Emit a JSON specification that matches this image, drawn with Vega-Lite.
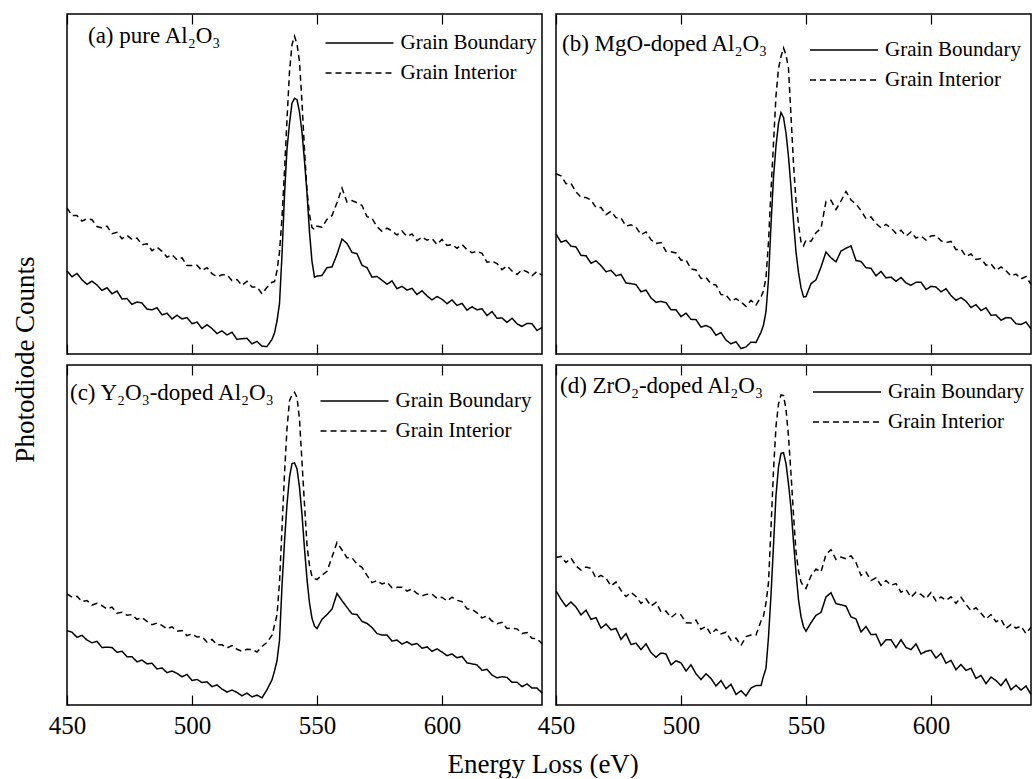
{
"$schema": "https://vega.github.io/schema/vega-lite/v6.json",
"padding": {"left": 11, "top": 13, "right": 0, "bottom": 0},
"background": "white",
"title": {"text": "Photodiode Counts", "orient": "left", "anchor": "middle", "fontSize": 27, "offset": -19.5, "dx": 36, "baseline": "bottom", "font": "Liberation Serif", "fontWeight": "normal", "color": "black"},
"vconcat": [{
  "title": {"text": "Energy Loss (eV)", "orient": "bottom", "anchor": "middle", "fontSize": 27, "offset": 13, "dx": 2, "baseline": "top", "font": "Liberation Serif", "fontWeight": "normal", "color": "black"},
  "columns": 2,
  "spacing": {"row": 9, "column": -10},
  "resolve": {"scale": {"strokeDash": "independent"}, "legend": {"strokeDash": "independent"}},
  "concat": [
    {
      "width": 475, "height": 340,
      "data": {"name": "a"},
      "title": {"text": "(a) pure Al₂O₃", "dx": 21, "offset": -34, "frame": "group"},
      "transform": [{"fold": ["Grain Boundary", "Grain Interior"], "as": ["series", "counts"]}],
      "mark": {"type": "line", "color": "black", "strokeWidth": 1.5},
      "encoding": {
        "x": {"field": "e", "type": "quantitative", "scale": {"domain": [450, 640], "nice": false, "zero": false},
              "axis": {"values": [450, 500, 550, 600], "labels": false, "ticks": false, "domain": false, "grid": true, "gridDash": [10, 320], "gridColor": "black", "gridOpacity": 1, "gridWidth": 1.2, "title": null}},
        "y": {"field": "counts", "type": "quantitative", "scale": {"domain": [0, 1000], "nice": false}, "axis": null},
        "strokeDash": {"field": "series", "type": "nominal", "scale": {"domain": ["Grain Boundary", "Grain Interior"], "range": [[1, 0], [6, 4]]},
              "legend": {"title": null, "orient": "none", "legendX": 281.5, "legendY": 18}}
      }
    },
    {
      "width": 475, "height": 340,
      "data": {"name": "b"},
      "title": {"text": "(b) MgO-doped Al₂O₃", "dx": 6, "offset": -42, "frame": "group"},
      "transform": [{"fold": ["Grain Boundary", "Grain Interior"], "as": ["series", "counts"]}],
      "mark": {"type": "line", "color": "black", "strokeWidth": 1.5},
      "encoding": {
        "x": {"field": "e", "type": "quantitative", "scale": {"domain": [450, 640], "nice": false, "zero": false},
              "axis": {"values": [450, 500, 550, 600], "labels": false, "ticks": false, "domain": false, "grid": true, "gridDash": [10, 320], "gridColor": "black", "gridOpacity": 1, "gridWidth": 1.2, "title": null}},
        "y": {"field": "counts", "type": "quantitative", "scale": {"domain": [0, 1000], "nice": false}, "axis": null},
        "strokeDash": {"field": "series", "type": "nominal", "scale": {"domain": ["Grain Boundary", "Grain Interior"], "range": [[1, 0], [6, 4]]},
              "legend": {"title": null, "orient": "none", "legendX": 277, "legendY": 25}}
      }
    },
    {
      "width": 475, "height": 340,
      "data": {"name": "c"},
      "title": {"text": "(c) Y₂O₃-doped Al₂O₃", "dx": 3, "offset": -40, "frame": "group"},
      "transform": [{"fold": ["Grain Boundary", "Grain Interior"], "as": ["series", "counts"]}],
      "mark": {"type": "line", "color": "black", "strokeWidth": 1.5},
      "encoding": {
        "x": {"field": "e", "type": "quantitative", "scale": {"domain": [450, 640], "nice": false, "zero": false},
              "axis": {"values": [450, 500, 550, 600], "labels": true, "labelFlush": false, "labelOverlap": false, "labelFontSize": 25, "labelFont": "Liberation Serif", "labelColor": "black", "labelPadding": 8, "ticks": false, "domain": false, "grid": true, "gridDash": [10, 320], "gridColor": "black", "gridOpacity": 1, "gridWidth": 1.2, "title": null}},
        "y": {"field": "counts", "type": "quantitative", "scale": {"domain": [0, 1000], "nice": false}, "axis": null},
        "strokeDash": {"field": "series", "type": "nominal", "scale": {"domain": ["Grain Boundary", "Grain Interior"], "range": [[1, 0], [6, 4]]},
              "legend": {"title": null, "orient": "none", "legendX": 276.5, "legendY": 25}}
      }
    },
    {
      "width": 475, "height": 340,
      "data": {"name": "d"},
      "title": {"text": "(d) ZrO₂-doped Al₂O₃", "dx": 4, "offset": -33, "frame": "group"},
      "transform": [{"fold": ["Grain Boundary", "Grain Interior"], "as": ["series", "counts"]}],
      "mark": {"type": "line", "color": "black", "strokeWidth": 1.5},
      "encoding": {
        "x": {"field": "e", "type": "quantitative", "scale": {"domain": [450, 640], "nice": false, "zero": false},
              "axis": {"values": [450, 500, 550, 600], "labels": true, "labelFlush": false, "labelOverlap": false, "labelFontSize": 25, "labelFont": "Liberation Serif", "labelColor": "black", "labelPadding": 8, "ticks": false, "domain": false, "grid": true, "gridDash": [10, 320], "gridColor": "black", "gridOpacity": 1, "gridWidth": 1.2, "title": null}},
        "y": {"field": "counts", "type": "quantitative", "scale": {"domain": [0, 1000], "nice": false}, "axis": null},
        "strokeDash": {"field": "series", "type": "nominal", "scale": {"domain": ["Grain Boundary", "Grain Interior"], "range": [[1, 0], [6, 4]]},
              "legend": {"title": null, "orient": "none", "legendX": 280, "legendY": 16}}
      }
    }
  ]
}],
"config": {
  "view": {"stroke": "black", "strokeWidth": 1.5},
  "font": "Liberation Serif",
  "title": {"font": "Liberation Serif", "fontSize": 23, "fontWeight": "normal", "anchor": "start", "color": "black", "baseline": "alphabetic"},
  "legend": {"symbolType": "M-3.4,0H3.4", "symbolSize": 400, "symbolStrokeColor": "black", "symbolStrokeWidth": 1.5, "labelFont": "Liberation Serif", "labelFontSize": 21, "labelColor": "black", "labelOffset": 30, "rowPadding": 9, "padding": 0, "labelLimit": 300}
},
"datasets": {
"a": [
{"e":450,"Grain Boundary":244,"Grain Interior":430},{"e":452,"Grain Boundary":227,"Grain Interior":407},{"e":454,"Grain Boundary":237,"Grain Interior":407},{"e":456,"Grain Boundary":218,"Grain Interior":391},{"e":458,"Grain Boundary":205,"Grain Interior":398},{"e":460,"Grain Boundary":214,"Grain Interior":395},{"e":462,"Grain Boundary":203,"Grain Interior":375},{"e":464,"Grain Boundary":187,"Grain Interior":371},{"e":466,"Grain Boundary":195,"Grain Interior":376},{"e":468,"Grain Boundary":177,"Grain Interior":354},{"e":470,"Grain Boundary":185,"Grain Interior":358},{"e":472,"Grain Boundary":162,"Grain Interior":339},{"e":474,"Grain Boundary":163,"Grain Interior":349},{"e":476,"Grain Boundary":146,"Grain Interior":337},{"e":478,"Grain Boundary":153,"Grain Interior":341},{"e":480,"Grain Boundary":150,"Grain Interior":321},{"e":482,"Grain Boundary":132,"Grain Interior":324},{"e":484,"Grain Boundary":130,"Grain Interior":304},{"e":486,"Grain Boundary":136,"Grain Interior":314},{"e":488,"Grain Boundary":115,"Grain Interior":302},{"e":490,"Grain Boundary":120,"Grain Interior":285},{"e":492,"Grain Boundary":103,"Grain Interior":292},{"e":494,"Grain Boundary":114,"Grain Interior":277},{"e":496,"Grain Boundary":103,"Grain Interior":283},{"e":498,"Grain Boundary":107,"Grain Interior":260},{"e":500,"Grain Boundary":89,"Grain Interior":260},{"e":502,"Grain Boundary":94,"Grain Interior":261},{"e":504,"Grain Boundary":75,"Grain Interior":245},{"e":506,"Grain Boundary":86,"Grain Interior":254},{"e":508,"Grain Boundary":75,"Grain Interior":236},{"e":510,"Grain Boundary":60,"Grain Interior":227},{"e":512,"Grain Boundary":68,"Grain Interior":233},{"e":514,"Grain Boundary":56,"Grain Interior":233},{"e":516,"Grain Boundary":64,"Grain Interior":216},{"e":518,"Grain Boundary":43,"Grain Interior":219},{"e":520,"Grain Boundary":45,"Grain Interior":202},{"e":522,"Grain Boundary":46,"Grain Interior":214},{"e":524,"Grain Boundary":30,"Grain Interior":197},{"e":526,"Grain Boundary":37,"Grain Interior":197},{"e":528,"Grain Boundary":23,"Grain Interior":177},{"e":530,"Grain Boundary":22,"Grain Interior":196},{"e":532,"Grain Boundary":43,"Grain Interior":211},{"e":533,"Grain Boundary":62,"Grain Interior":213},{"e":534,"Grain Boundary":97,"Grain Interior":245},{"e":535,"Grain Boundary":148,"Grain Interior":300},{"e":536,"Grain Boundary":292,"Grain Interior":400},{"e":537,"Grain Boundary":468,"Grain Interior":540},{"e":538,"Grain Boundary":603,"Grain Interior":690},{"e":539,"Grain Boundary":678,"Grain Interior":830},{"e":540,"Grain Boundary":738,"Grain Interior":910},{"e":541,"Grain Boundary":752,"Grain Interior":935},{"e":542,"Grain Boundary":748,"Grain Interior":912},{"e":543,"Grain Boundary":712,"Grain Interior":860},{"e":544,"Grain Boundary":652,"Grain Interior":740},{"e":545,"Grain Boundary":568,"Grain Interior":600},{"e":546,"Grain Boundary":473,"Grain Interior":480},{"e":547,"Grain Boundary":358,"Grain Interior":410},{"e":548,"Grain Boundary":272,"Grain Interior":372},{"e":549,"Grain Boundary":226,"Grain Interior":366},{"e":550,"Grain Boundary":229,"Grain Interior":376},{"e":552,"Grain Boundary":231,"Grain Interior":373},{"e":554,"Grain Boundary":254,"Grain Interior":396},{"e":556,"Grain Boundary":256,"Grain Interior":407},{"e":558,"Grain Boundary":293,"Grain Interior":445},{"e":560,"Grain Boundary":338,"Grain Interior":488},{"e":562,"Grain Boundary":325,"Grain Interior":447},{"e":564,"Grain Boundary":299,"Grain Interior":451},{"e":566,"Grain Boundary":295,"Grain Interior":445},{"e":568,"Grain Boundary":261,"Grain Interior":437},{"e":570,"Grain Boundary":254,"Grain Interior":404},{"e":572,"Grain Boundary":226,"Grain Interior":399},{"e":574,"Grain Boundary":228,"Grain Interior":374},{"e":576,"Grain Boundary":217,"Grain Interior":361},{"e":578,"Grain Boundary":205,"Grain Interior":370},{"e":580,"Grain Boundary":215,"Grain Interior":362},{"e":582,"Grain Boundary":192,"Grain Interior":350},{"e":584,"Grain Boundary":199,"Grain Interior":362},{"e":586,"Grain Boundary":188,"Grain Interior":346},{"e":588,"Grain Boundary":193,"Grain Interior":353},{"e":590,"Grain Boundary":175,"Grain Interior":333},{"e":592,"Grain Boundary":186,"Grain Interior":344},{"e":594,"Grain Boundary":171,"Grain Interior":335},{"e":596,"Grain Boundary":159,"Grain Interior":340},{"e":598,"Grain Boundary":169,"Grain Interior":322},{"e":600,"Grain Boundary":161,"Grain Interior":337},{"e":602,"Grain Boundary":148,"Grain Interior":319},{"e":604,"Grain Boundary":159,"Grain Interior":322},{"e":606,"Grain Boundary":143,"Grain Interior":311},{"e":608,"Grain Boundary":149,"Grain Interior":322},{"e":610,"Grain Boundary":129,"Grain Interior":307},{"e":612,"Grain Boundary":139,"Grain Interior":298},{"e":614,"Grain Boundary":130,"Grain Interior":302},{"e":616,"Grain Boundary":133,"Grain Interior":296},{"e":618,"Grain Boundary":113,"Grain Interior":270},{"e":620,"Grain Boundary":125,"Grain Interior":273},{"e":622,"Grain Boundary":105,"Grain Interior":266},{"e":624,"Grain Boundary":106,"Grain Interior":248},{"e":626,"Grain Boundary":93,"Grain Interior":259},{"e":628,"Grain Boundary":105,"Grain Interior":244},{"e":630,"Grain Boundary":89,"Grain Interior":234},{"e":632,"Grain Boundary":81,"Grain Interior":248},{"e":634,"Grain Boundary":90,"Grain Interior":242},{"e":636,"Grain Boundary":89,"Grain Interior":230},{"e":638,"Grain Boundary":69,"Grain Interior":243},{"e":640,"Grain Boundary":78,"Grain Interior":231}
],
"b": [
{"e":450,"Grain Boundary":353,"Grain Interior":530},{"e":452,"Grain Boundary":329,"Grain Interior":524},{"e":454,"Grain Boundary":334,"Grain Interior":501},{"e":456,"Grain Boundary":317,"Grain Interior":502},{"e":458,"Grain Boundary":315,"Grain Interior":477},{"e":460,"Grain Boundary":290,"Grain Interior":461},{"e":462,"Grain Boundary":289,"Grain Interior":460},{"e":464,"Grain Boundary":267,"Grain Interior":453},{"e":466,"Grain Boundary":274,"Grain Interior":431},{"e":468,"Grain Boundary":260,"Grain Interior":431},{"e":470,"Grain Boundary":242,"Grain Interior":410},{"e":472,"Grain Boundary":246,"Grain Interior":420},{"e":474,"Grain Boundary":230,"Grain Interior":401},{"e":476,"Grain Boundary":234,"Grain Interior":400},{"e":478,"Grain Boundary":209,"Grain Interior":376},{"e":480,"Grain Boundary":207,"Grain Interior":380},{"e":482,"Grain Boundary":204,"Grain Interior":373},{"e":484,"Grain Boundary":183,"Grain Interior":351},{"e":486,"Grain Boundary":188,"Grain Interior":359},{"e":488,"Grain Boundary":165,"Grain Interior":336},{"e":490,"Grain Boundary":152,"Grain Interior":325},{"e":492,"Grain Boundary":155,"Grain Interior":328},{"e":494,"Grain Boundary":151,"Grain Interior":302},{"e":496,"Grain Boundary":130,"Grain Interior":301},{"e":498,"Grain Boundary":130,"Grain Interior":297},{"e":500,"Grain Boundary":110,"Grain Interior":276},{"e":502,"Grain Boundary":120,"Grain Interior":277},{"e":504,"Grain Boundary":102,"Grain Interior":250},{"e":506,"Grain Boundary":101,"Grain Interior":247},{"e":508,"Grain Boundary":79,"Grain Interior":222},{"e":510,"Grain Boundary":84,"Grain Interior":225},{"e":512,"Grain Boundary":77,"Grain Interior":206},{"e":514,"Grain Boundary":55,"Grain Interior":203},{"e":516,"Grain Boundary":63,"Grain Interior":175},{"e":518,"Grain Boundary":41,"Grain Interior":174},{"e":520,"Grain Boundary":30,"Grain Interior":155},{"e":522,"Grain Boundary":36,"Grain Interior":163},{"e":524,"Grain Boundary":16,"Grain Interior":153},{"e":526,"Grain Boundary":21,"Grain Interior":140},{"e":528,"Grain Boundary":35,"Grain Interior":158},{"e":530,"Grain Boundary":34,"Grain Interior":144},{"e":532,"Grain Boundary":64,"Grain Interior":168},{"e":533,"Grain Boundary":85,"Grain Interior":185},{"e":534,"Grain Boundary":125,"Grain Interior":225},{"e":535,"Grain Boundary":220,"Grain Interior":330},{"e":536,"Grain Boundary":380,"Grain Interior":480},{"e":537,"Grain Boundary":520,"Grain Interior":620},{"e":538,"Grain Boundary":612,"Grain Interior":760},{"e":539,"Grain Boundary":678,"Grain Interior":840},{"e":540,"Grain Boundary":710,"Grain Interior":875},{"e":541,"Grain Boundary":696,"Grain Interior":900},{"e":542,"Grain Boundary":650,"Grain Interior":880},{"e":543,"Grain Boundary":580,"Grain Interior":840},{"e":544,"Grain Boundary":490,"Grain Interior":700},{"e":545,"Grain Boundary":390,"Grain Interior":560},{"e":546,"Grain Boundary":300,"Grain Interior":450},{"e":547,"Grain Boundary":240,"Grain Interior":380},{"e":548,"Grain Boundary":195,"Grain Interior":330},{"e":549,"Grain Boundary":168,"Grain Interior":318},{"e":550,"Grain Boundary":169,"Grain Interior":335},{"e":552,"Grain Boundary":207,"Grain Interior":331},{"e":554,"Grain Boundary":218,"Grain Interior":357},{"e":556,"Grain Boundary":256,"Grain Interior":369},{"e":558,"Grain Boundary":300,"Grain Interior":449},{"e":560,"Grain Boundary":283,"Grain Interior":452},{"e":562,"Grain Boundary":271,"Grain Interior":425},{"e":564,"Grain Boundary":303,"Grain Interior":450},{"e":566,"Grain Boundary":311,"Grain Interior":478},{"e":568,"Grain Boundary":318,"Grain Interior":453},{"e":570,"Grain Boundary":275,"Grain Interior":441},{"e":572,"Grain Boundary":272,"Grain Interior":422},{"e":574,"Grain Boundary":254,"Grain Interior":398},{"e":576,"Grain Boundary":252,"Grain Interior":403},{"e":578,"Grain Boundary":230,"Grain Interior":384},{"e":580,"Grain Boundary":243,"Grain Interior":371},{"e":582,"Grain Boundary":224,"Grain Interior":381},{"e":584,"Grain Boundary":226,"Grain Interior":371},{"e":586,"Grain Boundary":214,"Grain Interior":355},{"e":588,"Grain Boundary":225,"Grain Interior":364},{"e":590,"Grain Boundary":209,"Grain Interior":347},{"e":592,"Grain Boundary":202,"Grain Interior":359},{"e":594,"Grain Boundary":211,"Grain Interior":341},{"e":596,"Grain Boundary":211,"Grain Interior":347},{"e":598,"Grain Boundary":190,"Grain Interior":335},{"e":600,"Grain Boundary":199,"Grain Interior":347},{"e":602,"Grain Boundary":197,"Grain Interior":349},{"e":604,"Grain Boundary":183,"Grain Interior":333},{"e":606,"Grain Boundary":192,"Grain Interior":328},{"e":608,"Grain Boundary":172,"Grain Interior":331},{"e":610,"Grain Boundary":158,"Grain Interior":307},{"e":612,"Grain Boundary":166,"Grain Interior":308},{"e":614,"Grain Boundary":155,"Grain Interior":287},{"e":616,"Grain Boundary":137,"Grain Interior":294},{"e":618,"Grain Boundary":145,"Grain Interior":278},{"e":620,"Grain Boundary":128,"Grain Interior":281},{"e":622,"Grain Boundary":136,"Grain Interior":261},{"e":624,"Grain Boundary":114,"Grain Interior":265},{"e":626,"Grain Boundary":115,"Grain Interior":246},{"e":628,"Grain Boundary":99,"Grain Interior":256},{"e":630,"Grain Boundary":107,"Grain Interior":245},{"e":632,"Grain Boundary":106,"Grain Interior":229},{"e":634,"Grain Boundary":89,"Grain Interior":235},{"e":636,"Grain Boundary":87,"Grain Interior":221},{"e":638,"Grain Boundary":94,"Grain Interior":228},{"e":640,"Grain Boundary":74,"Grain Interior":205}
],
"c": [
{"e":450,"Grain Boundary":219,"Grain Interior":327},{"e":452,"Grain Boundary":214,"Grain Interior":317},{"e":454,"Grain Boundary":199,"Grain Interior":320},{"e":456,"Grain Boundary":205,"Grain Interior":304},{"e":458,"Grain Boundary":191,"Grain Interior":307},{"e":460,"Grain Boundary":183,"Grain Interior":294},{"e":462,"Grain Boundary":187,"Grain Interior":299},{"e":464,"Grain Boundary":169,"Grain Interior":292},{"e":466,"Grain Boundary":170,"Grain Interior":282},{"e":468,"Grain Boundary":169,"Grain Interior":288},{"e":470,"Grain Boundary":155,"Grain Interior":270},{"e":472,"Grain Boundary":158,"Grain Interior":273},{"e":474,"Grain Boundary":142,"Grain Interior":264},{"e":476,"Grain Boundary":142,"Grain Interior":266},{"e":478,"Grain Boundary":127,"Grain Interior":252},{"e":480,"Grain Boundary":132,"Grain Interior":257},{"e":482,"Grain Boundary":121,"Grain Interior":246},{"e":484,"Grain Boundary":123,"Grain Interior":236},{"e":486,"Grain Boundary":106,"Grain Interior":241},{"e":488,"Grain Boundary":109,"Grain Interior":234},{"e":490,"Grain Boundary":95,"Grain Interior":224},{"e":492,"Grain Boundary":100,"Grain Interior":230},{"e":494,"Grain Boundary":93,"Grain Interior":217},{"e":496,"Grain Boundary":83,"Grain Interior":219},{"e":498,"Grain Boundary":90,"Grain Interior":204},{"e":500,"Grain Boundary":72,"Grain Interior":209},{"e":502,"Grain Boundary":75,"Grain Interior":200},{"e":504,"Grain Boundary":66,"Grain Interior":201},{"e":506,"Grain Boundary":68,"Grain Interior":185},{"e":508,"Grain Boundary":54,"Grain Interior":193},{"e":510,"Grain Boundary":59,"Grain Interior":177},{"e":512,"Grain Boundary":47,"Grain Interior":177},{"e":514,"Grain Boundary":38,"Grain Interior":168},{"e":516,"Grain Boundary":44,"Grain Interior":175},{"e":518,"Grain Boundary":37,"Grain Interior":164},{"e":520,"Grain Boundary":27,"Grain Interior":158},{"e":522,"Grain Boundary":35,"Grain Interior":164},{"e":524,"Grain Boundary":24,"Grain Interior":163},{"e":526,"Grain Boundary":29,"Grain Interior":156},{"e":528,"Grain Boundary":21,"Grain Interior":172},{"e":530,"Grain Boundary":45,"Grain Interior":184},{"e":532,"Grain Boundary":74,"Grain Interior":205},{"e":533,"Grain Boundary":100,"Grain Interior":235},{"e":534,"Grain Boundary":130,"Grain Interior":265},{"e":535,"Grain Boundary":190,"Grain Interior":360},{"e":536,"Grain Boundary":350,"Grain Interior":519},{"e":537,"Grain Boundary":480,"Grain Interior":680},{"e":538,"Grain Boundary":590,"Grain Interior":813},{"e":539,"Grain Boundary":670,"Grain Interior":895},{"e":540,"Grain Boundary":710,"Grain Interior":912},{"e":541,"Grain Boundary":712,"Grain Interior":920},{"e":542,"Grain Boundary":695,"Grain Interior":905},{"e":543,"Grain Boundary":640,"Grain Interior":840},{"e":544,"Grain Boundary":560,"Grain Interior":715},{"e":545,"Grain Boundary":460,"Grain Interior":590},{"e":546,"Grain Boundary":370,"Grain Interior":470},{"e":547,"Grain Boundary":300,"Grain Interior":410},{"e":548,"Grain Boundary":255,"Grain Interior":378},{"e":549,"Grain Boundary":232,"Grain Interior":372},{"e":550,"Grain Boundary":225,"Grain Interior":369},{"e":552,"Grain Boundary":252,"Grain Interior":382},{"e":554,"Grain Boundary":266,"Grain Interior":393},{"e":556,"Grain Boundary":282,"Grain Interior":435},{"e":558,"Grain Boundary":328,"Grain Interior":478},{"e":560,"Grain Boundary":307,"Grain Interior":456},{"e":562,"Grain Boundary":287,"Grain Interior":433},{"e":564,"Grain Boundary":268,"Grain Interior":433},{"e":566,"Grain Boundary":266,"Grain Interior":414},{"e":568,"Grain Boundary":246,"Grain Interior":405},{"e":570,"Grain Boundary":240,"Grain Interior":381},{"e":572,"Grain Boundary":228,"Grain Interior":360},{"e":574,"Grain Boundary":210,"Grain Interior":366},{"e":576,"Grain Boundary":206,"Grain Interior":356},{"e":578,"Grain Boundary":206,"Grain Interior":361},{"e":580,"Grain Boundary":188,"Grain Interior":345},{"e":582,"Grain Boundary":191,"Grain Interior":346},{"e":584,"Grain Boundary":179,"Grain Interior":346},{"e":586,"Grain Boundary":186,"Grain Interior":335},{"e":588,"Grain Boundary":177,"Grain Interior":341},{"e":590,"Grain Boundary":181,"Grain Interior":328},{"e":592,"Grain Boundary":167,"Grain Interior":321},{"e":594,"Grain Boundary":171,"Grain Interior":326},{"e":596,"Grain Boundary":158,"Grain Interior":326},{"e":598,"Grain Boundary":165,"Grain Interior":314},{"e":600,"Grain Boundary":156,"Grain Interior":317},{"e":602,"Grain Boundary":145,"Grain Interior":306},{"e":604,"Grain Boundary":150,"Grain Interior":317},{"e":606,"Grain Boundary":139,"Grain Interior":308},{"e":608,"Grain Boundary":143,"Grain Interior":304},{"e":610,"Grain Boundary":124,"Grain Interior":283},{"e":612,"Grain Boundary":121,"Grain Interior":281},{"e":614,"Grain Boundary":118,"Grain Interior":271},{"e":616,"Grain Boundary":102,"Grain Interior":256},{"e":618,"Grain Boundary":105,"Grain Interior":262},{"e":620,"Grain Boundary":88,"Grain Interior":247},{"e":622,"Grain Boundary":80,"Grain Interior":239},{"e":624,"Grain Boundary":83,"Grain Interior":243},{"e":626,"Grain Boundary":81,"Grain Interior":225},{"e":628,"Grain Boundary":67,"Grain Interior":226},{"e":630,"Grain Boundary":67,"Grain Interior":224},{"e":632,"Grain Boundary":54,"Grain Interior":210},{"e":634,"Grain Boundary":62,"Grain Interior":213},{"e":636,"Grain Boundary":50,"Grain Interior":196},{"e":638,"Grain Boundary":50,"Grain Interior":195},{"e":640,"Grain Boundary":35,"Grain Interior":180}
],
"d": [
{"e":450,"Grain Boundary":336,"Grain Interior":434},{"e":452,"Grain Boundary":311,"Grain Interior":437},{"e":454,"Grain Boundary":290,"Grain Interior":419},{"e":456,"Grain Boundary":303,"Grain Interior":432},{"e":458,"Grain Boundary":288,"Grain Interior":409},{"e":460,"Grain Boundary":265,"Grain Interior":397},{"e":462,"Grain Boundary":279,"Grain Interior":406},{"e":464,"Grain Boundary":252,"Grain Interior":402},{"e":466,"Grain Boundary":257,"Grain Interior":373},{"e":468,"Grain Boundary":226,"Grain Interior":381},{"e":470,"Grain Boundary":238,"Grain Interior":373},{"e":472,"Grain Boundary":221,"Grain Interior":350},{"e":474,"Grain Boundary":225,"Grain Interior":362},{"e":476,"Grain Boundary":193,"Grain Interior":337},{"e":478,"Grain Boundary":210,"Grain Interior":319},{"e":480,"Grain Boundary":178,"Grain Interior":331},{"e":482,"Grain Boundary":182,"Grain Interior":319},{"e":484,"Grain Boundary":163,"Grain Interior":299},{"e":486,"Grain Boundary":180,"Grain Interior":312},{"e":488,"Grain Boundary":154,"Grain Interior":291},{"e":490,"Grain Boundary":141,"Grain Interior":302},{"e":492,"Grain Boundary":153,"Grain Interior":274},{"e":494,"Grain Boundary":150,"Grain Interior":276},{"e":496,"Grain Boundary":118,"Grain Interior":257},{"e":498,"Grain Boundary":130,"Grain Interior":269},{"e":500,"Grain Boundary":124,"Grain Interior":265},{"e":502,"Grain Boundary":100,"Grain Interior":242},{"e":504,"Grain Boundary":118,"Grain Interior":241},{"e":506,"Grain Boundary":92,"Grain Interior":250},{"e":508,"Grain Boundary":75,"Grain Interior":223},{"e":510,"Grain Boundary":92,"Grain Interior":231},{"e":512,"Grain Boundary":78,"Grain Interior":208},{"e":514,"Grain Boundary":56,"Grain Interior":223},{"e":516,"Grain Boundary":72,"Grain Interior":209},{"e":518,"Grain Boundary":48,"Grain Interior":214},{"e":520,"Grain Boundary":61,"Grain Interior":190},{"e":522,"Grain Boundary":31,"Grain Interior":197},{"e":524,"Grain Boundary":42,"Grain Interior":175},{"e":526,"Grain Boundary":27,"Grain Interior":201},{"e":528,"Grain Boundary":50,"Grain Interior":206},{"e":530,"Grain Boundary":57,"Grain Interior":206},{"e":532,"Grain Boundary":57,"Grain Interior":247},{"e":533,"Grain Boundary":85,"Grain Interior":262},{"e":534,"Grain Boundary":108,"Grain Interior":300},{"e":535,"Grain Boundary":200,"Grain Interior":360},{"e":536,"Grain Boundary":323,"Grain Interior":520},{"e":537,"Grain Boundary":470,"Grain Interior":690},{"e":538,"Grain Boundary":617,"Grain Interior":820},{"e":539,"Grain Boundary":700,"Grain Interior":885},{"e":540,"Grain Boundary":740,"Grain Interior":912},{"e":541,"Grain Boundary":742,"Grain Interior":910},{"e":542,"Grain Boundary":710,"Grain Interior":870},{"e":543,"Grain Boundary":650,"Grain Interior":790},{"e":544,"Grain Boundary":580,"Grain Interior":680},{"e":545,"Grain Boundary":480,"Grain Interior":560},{"e":546,"Grain Boundary":390,"Grain Interior":450},{"e":547,"Grain Boundary":310,"Grain Interior":395},{"e":548,"Grain Boundary":260,"Grain Interior":362},{"e":549,"Grain Boundary":230,"Grain Interior":350},{"e":550,"Grain Boundary":217,"Grain Interior":343},{"e":552,"Grain Boundary":242,"Grain Interior":380},{"e":554,"Grain Boundary":264,"Grain Interior":400},{"e":556,"Grain Boundary":272,"Grain Interior":391},{"e":558,"Grain Boundary":318,"Grain Interior":443},{"e":560,"Grain Boundary":330,"Grain Interior":457},{"e":562,"Grain Boundary":298,"Grain Interior":428},{"e":564,"Grain Boundary":295,"Grain Interior":435},{"e":566,"Grain Boundary":291,"Grain Interior":430},{"e":568,"Grain Boundary":259,"Grain Interior":439},{"e":570,"Grain Boundary":253,"Grain Interior":419},{"e":572,"Grain Boundary":215,"Grain Interior":381},{"e":574,"Grain Boundary":231,"Grain Interior":391},{"e":576,"Grain Boundary":207,"Grain Interior":366},{"e":578,"Grain Boundary":208,"Grain Interior":374},{"e":580,"Grain Boundary":175,"Grain Interior":352},{"e":582,"Grain Boundary":192,"Grain Interior":366},{"e":584,"Grain Boundary":192,"Grain Interior":352},{"e":586,"Grain Boundary":169,"Grain Interior":357},{"e":588,"Grain Boundary":192,"Grain Interior":332},{"e":590,"Grain Boundary":169,"Grain Interior":340},{"e":592,"Grain Boundary":163,"Grain Interior":317},{"e":594,"Grain Boundary":180,"Grain Interior":332},{"e":596,"Grain Boundary":150,"Grain Interior":325},{"e":598,"Grain Boundary":158,"Grain Interior":313},{"e":600,"Grain Boundary":161,"Grain Interior":331},{"e":602,"Grain Boundary":138,"Grain Interior":306},{"e":604,"Grain Boundary":152,"Grain Interior":318},{"e":606,"Grain Boundary":123,"Grain Interior":308},{"e":608,"Grain Boundary":131,"Grain Interior":318},{"e":610,"Grain Boundary":104,"Grain Interior":299},{"e":612,"Grain Boundary":119,"Grain Interior":317},{"e":614,"Grain Boundary":102,"Grain Interior":296},{"e":616,"Grain Boundary":108,"Grain Interior":277},{"e":618,"Grain Boundary":78,"Grain Interior":286},{"e":620,"Grain Boundary":87,"Grain Interior":270},{"e":622,"Grain Boundary":63,"Grain Interior":253},{"e":624,"Grain Boundary":82,"Grain Interior":266},{"e":626,"Grain Boundary":72,"Grain Interior":245},{"e":628,"Grain Boundary":57,"Grain Interior":252},{"e":630,"Grain Boundary":76,"Grain Interior":225},{"e":632,"Grain Boundary":45,"Grain Interior":237},{"e":634,"Grain Boundary":58,"Grain Interior":226},{"e":636,"Grain Boundary":44,"Grain Interior":232},{"e":638,"Grain Boundary":56,"Grain Interior":210},{"e":640,"Grain Boundary":31,"Grain Interior":229}
]
}
}
